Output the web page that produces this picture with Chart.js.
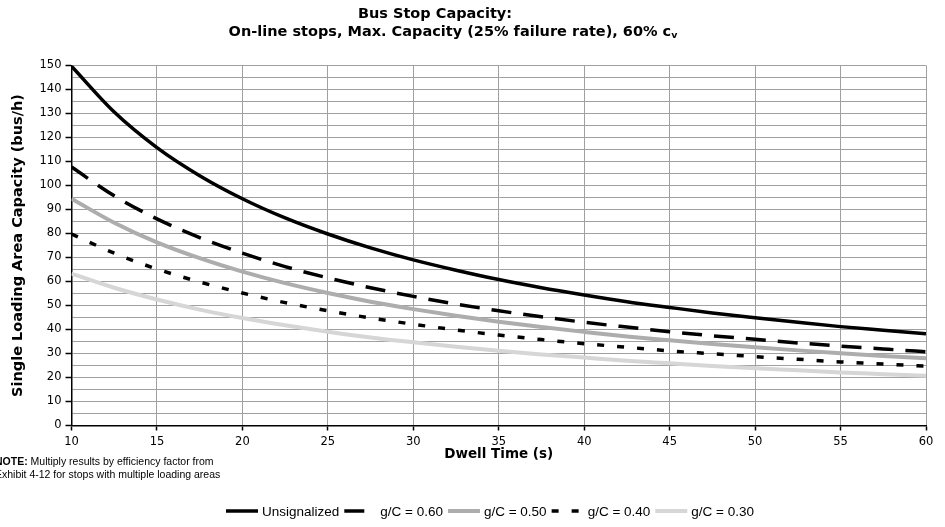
<!DOCTYPE html>
<html>
<head>
<meta charset="utf-8">
<title>Bus Stop Capacity</title>
<script src="https://cdn.jsdelivr.net/npm/chart.js@4.4.1/dist/chart.umd.min.js"></script>
<style>
  html, body { margin: 0; padding: 0; background: #fff; }
  #wrap { width: 945px; height: 527px; position: relative; }
</style>
</head>
<body>
<div id="wrap"><canvas id="capacityChart"></canvas></div>
<script>
// dwell time (s)
const dwellTimes = [10, 12.5, 15, 17.5, 20, 22.5, 25, 27.5, 30, 32.5, 35, 37.5, 40, 42.5, 45, 47.5, 50, 52.5, 55, 57.5, 60];

// capacity (bus/h) per loading area
const unsignalized = [149.7, 130.6, 115.8, 104.1, 94.5, 86.5, 79.8, 74.0, 69.0, 64.7, 60.8, 57.4, 54.4, 51.6, 49.2, 46.9, 44.9, 43.0, 41.2, 39.7, 38.2];
const gc60 = [107.7, 95.7, 86.1, 78.3, 71.8, 66.2, 61.5, 57.4, 53.8, 50.6, 47.8, 45.3, 43.0, 41.0, 39.1, 37.4, 35.9, 34.4, 33.1, 31.9, 30.7];
const gc50 = [94.5, 84.5, 76.3, 69.7, 64.1, 59.3, 55.2, 51.6, 48.5, 45.7, 43.2, 41.0, 39.0, 37.1, 35.5, 34.0, 32.6, 31.3, 30.1, 29.0, 28.0];
const gc40 = [79.8, 71.8, 65.2, 59.8, 55.2, 51.2, 47.8, 44.8, 42.2, 39.8, 37.7, 35.8, 34.1, 32.6, 31.1, 29.9, 28.7, 27.6, 26.5, 25.6, 24.7];
const gc30 = [63.3, 57.4, 52.5, 48.3, 44.8, 41.8, 39.1, 36.7, 34.7, 32.8, 31.1, 29.6, 28.3, 27.0, 25.9, 24.8, 23.9, 23.0, 22.1, 21.4, 20.7];

const seriesLabels = ['Unsignalized', 'g/C = 0.60', 'g/C = 0.50', 'g/C = 0.40', 'g/C = 0.30'];

const xMin = 10, xMax = 60, xStep = 5;
const yMin = 0, yMax = 150, yStep = 5, yLabelStep = 10;

const titleLine1 = 'Bus Stop Capacity:';
const titleLine2 = 'On-line stops, Max. Capacity (25% failure rate), 60% c';
const titleSub = 'v';
const noteBold = 'NOTE:';
const noteLines = [' Multiply results by efficiency factor from', 'Exhibit 4-12 for stops with multiple loading areas'];

const boldFont = '"DejaVu Sans", Verdana, sans-serif';
const plainFont = '"Liberation Sans", Arial, sans-serif';

const toPoints = ys => ys.map((y, i) => ({ x: dwellTimes[i], y: y }));

function lineSet(label, values, color, width, dash) {
  return {
    label: label,
    data: toPoints(values),
    borderColor: color,
    backgroundColor: color,
    borderWidth: width,
    borderDash: dash,
    pointRadius: 0,
    fill: false,
    cubicInterpolationMode: 'monotone'
  };
}

// two-line heading with the subscript v
const headingPlugin = {
  id: 'heading',
  afterDraw(chart) {
    const ctx = chart.ctx;
    const big = 'bold 14.5px ' + boldFont;
    const small = 'bold 9.5px ' + boldFont;
    ctx.save();
    ctx.fillStyle = '#000';
    ctx.textBaseline = 'middle';
    ctx.font = big;
    ctx.textAlign = 'center';
    ctx.fillText(titleLine1, 435, 14);
    const w2 = ctx.measureText(titleLine2).width;
    ctx.font = small;
    const ws = ctx.measureText(titleSub).width;
    const x0 = 453 - (w2 + ws) / 2;
    ctx.textAlign = 'left';
    ctx.font = big;
    ctx.fillText(titleLine2, x0, 32);
    ctx.font = small;
    ctx.fillText(titleSub, x0 + w2, 36);
    ctx.restore();
  }
};

// footnote and the series key under the x axis
const footPlugin = {
  id: 'foot',
  afterDraw(chart) {
    const ctx = chart.ctx;
    ctx.save();
    ctx.fillStyle = '#000';
    ctx.textBaseline = 'middle';
    ctx.textAlign = 'left';
    ctx.font = 'bold 10.5px ' + plainFont;
    ctx.fillText(noteBold, -5, 462);
    const nb = ctx.measureText(noteBold).width;
    ctx.font = '10.5px ' + plainFont;
    ctx.fillText(noteLines[0], -5 + nb, 462);
    ctx.fillText(noteLines[1], -5, 475);

    ctx.font = '13.5px ' + plainFont;
    let x = 226;
    const y = 511;
    chart.data.datasets.forEach(ds => {
      ctx.strokeStyle = ds.borderColor;
      ctx.lineWidth = ds.borderWidth;
      ctx.setLineDash(ds.borderDash || []);
      ctx.beginPath();
      ctx.moveTo(x, y);
      ctx.lineTo(x + 32, y);
      ctx.stroke();
      ctx.setLineDash([]);
      ctx.fillText(ds.label, x + 36, y + 1);
      x += 36 + ctx.measureText(ds.label).width + 5;
    });
    ctx.restore();
  }
};

new Chart(document.getElementById('capacityChart'), {
  type: 'line',
  data: {
    datasets: [
      lineSet(seriesLabels[0], unsignalized, '#000000', 3.5, []),
      lineSet(seriesLabels[1], gc60, '#000000', 3.5, [20, 12]),
      lineSet(seriesLabels[2], gc50, '#adadad', 4, []),
      lineSet(seriesLabels[3], gc40, '#000000', 3.5, [7, 13]),
      lineSet(seriesLabels[4], gc30, '#d6d6d6', 4, [])
    ]
  },
  options: {
    responsive: true,
    maintainAspectRatio: false,
    animation: false,
    layout: { padding: { left: 0, top: 65.5, right: 19, bottom: 0 } },
    plugins: {
      legend: { display: false },
      title: { display: false },
      tooltip: { enabled: false }
    },
    scales: {
      x: {
        type: 'linear',
        min: xMin,
        max: xMax,
        afterFit(scale) { scale.height = 101.5; },
        ticks: {
          stepSize: xStep,
          color: '#000',
          padding: 5,
          font: { family: '"DejaVu Sans", sans-serif', size: 11.5 }
        },
        grid: { color: '#a0a0a0', lineWidth: 1, tickLength: 5, tickColor: '#000', tickWidth: 1.5 },
        border: { color: '#000', width: 1.5 },
        title: {
          display: true,
          text: 'Dwell Time (s)',
          color: '#000',
          padding: { top: 0, bottom: 64 },
          font: { family: boldFont, size: 13.5, weight: 'bold' }
        }
      },
      y: {
        min: yMin,
        max: yMax,
        afterFit(scale) { scale.width = 71.5; },
        ticks: {
          stepSize: yStep,
          autoSkip: false,
          color: '#000',
          padding: 4,
          font: { family: '"DejaVu Sans", sans-serif', size: 11.5 },
          callback: v => (v % yLabelStep === 0 ? v : '')
        },
        grid: {
          color: '#a0a0a0',
          lineWidth: 1,
          tickLength: 6,
          tickWidth: 1.5,
          tickColor: c => (c.tick && c.tick.value % yLabelStep === 0 ? '#000' : 'rgba(0,0,0,0)')
        },
        border: { color: '#000', width: 1.5 },
        title: {
          display: true,
          text: 'Single Loading Area Capacity (bus/h)',
          color: '#000',
          padding: { top: 10, bottom: 0 },
          font: { family: boldFont, size: 14.5, weight: 'bold' }
        }
      }
    }
  },
  plugins: [headingPlugin, footPlugin]
});
</script>
</body>
</html>
